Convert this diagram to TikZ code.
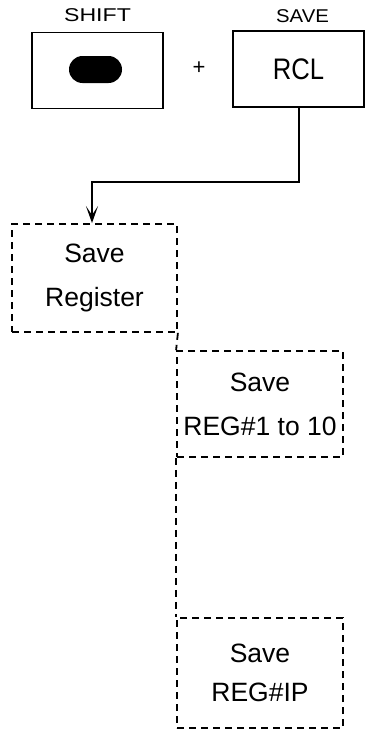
\documentclass[tikz,border=0pt]{standalone}
\usepackage{fontspec}
\setmainfont{Liberation Sans}
\usetikzlibrary{arrows.meta,calc}
\tikzset{
  keybox/.style={draw, line width=1.8pt, minimum width=131pt, minimum height=76pt, inner sep=0pt},
  menubox/.style={draw, dashed, dash pattern=on 7pt off 5pt, line width=1.8pt, inner sep=0pt, align=center,
     font=\fontsize{26.5}{44}\selectfont},
  keylabel/.style={font=\fontsize{18.5}{20}\selectfont, inner sep=0pt, anchor=base},
  link/.style={line width=2pt},
  dlink/.style={line width=1.8pt, dashed, dash pattern=on 7pt off 5pt},
}
\begin{document}
\begin{tikzpicture}[x=1pt,y=-1pt]
\useasboundingbox (0,0) rectangle (366,736);
% key boxes
\node[keybox] (shift) at (97.5,70.5) {};
\node[fill=black, rounded corners=13.5pt, minimum width=53pt, minimum height=27pt, inner sep=0pt] (oval) at (95.5,69.5) {};
\node[keybox, font=\fontsize{27}{30}\selectfont] (rcl) at (298.5,69) {\scalebox{0.95}[1.1]{RCL}};
\node[inner sep=0pt, font=\fontsize{22}{24}\selectfont] (plus) at (199,68) {+};
\node[keylabel] (shiftlbl) at (97.5,21.5) {\scalebox{1.25}[1]{SHIFT}};
\node[keylabel] (savelbl) at (302.5,22) {\scalebox{1.1}[1]{SAVE}};
% menu boxes
\node[menubox, minimum width=165pt, minimum height=108pt] (reg) at (94.5,278) {Save\\Register};
\node[menubox, minimum width=166pt, minimum height=106pt] (reg1) at (260,404) {Save\\REG\#1 to 10};
\node[menubox, minimum width=166pt, minimum height=110pt, font=\fontsize{26.5}{39}\selectfont] (regip) at (260,673) {Save\\REG\#IP};
% connectors
\coordinate (c1) at (299,182);
\coordinate (c2) at (92,182);
\draw[link, -{Stealth[length=17pt,width=12pt,inset=9pt]}] (rcl.south -| c1) -- (c1) -- (c2) -- (c2 |- reg.north);
\draw[dlink] (reg.south east) -- (reg1.north west);
\draw[dlink] (reg1.south west) -- (regip.north west);
\end{tikzpicture}
\end{document}
